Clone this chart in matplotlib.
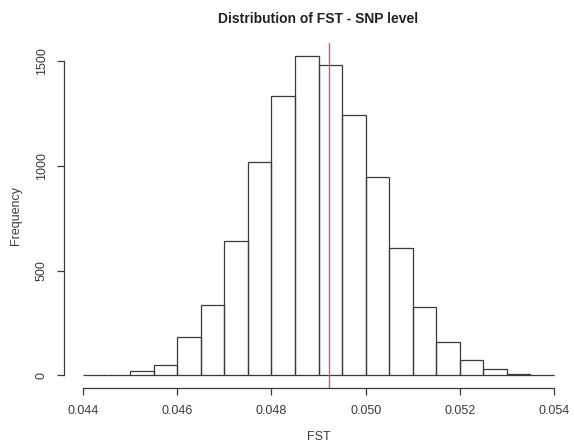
import numpy as np
import matplotlib.pyplot as plt

plt.rcParams['font.family'] = ['Liberation Sans', 'DejaVu Sans']

# histogram of FST values, bin width 0.0005
bin_edges = [0.0440, 0.0445, 0.0450, 0.0455, 0.0460, 0.0465, 0.0470, 0.0475,
             0.0480, 0.0485, 0.0490, 0.0495, 0.0500, 0.0505, 0.0510, 0.0515,
             0.0520, 0.0525, 0.0530, 0.0535, 0.0540]
counts = [1, 3, 19, 51, 183, 337, 643, 1021, 1333, 1527,
          1481, 1244, 948, 606, 326, 157, 72, 30, 8, 1]
mean_fst = 0.04923

x_ticks = [0.044, 0.046, 0.048, 0.050, 0.052, 0.054]
x_ticklabels = ["0.044", "0.046", "0.048", "0.050", "0.052", "0.054"]
y_ticks = [0, 500, 1000, 1500]

ink = "#3a3a3a"

fig = plt.figure(figsize=(5.74, 4.48), dpi=100)
ax = fig.add_axes([0.112, 0.134, 0.886, 0.770])

ax.hist(bin_edges[:-1], bins=bin_edges, weights=counts,
        fill=False, edgecolor=ink, linewidth=0.9)
ax.axvline(mean_fst, color="#dd5a5a", linewidth=1.0)

# R-style plot region: 4% padding on each side
xr = bin_edges[-1] - bin_edges[0]
ax.set_xlim(bin_edges[0] - 0.04 * xr, bin_edges[-1] + 0.04 * xr)
ymax = max(counts)
ax.set_ylim(-0.04 * ymax, 1.04 * ymax)

for s in ["top", "right"]:
    ax.spines[s].set_visible(False)
ax.spines["left"].set_bounds(0, 1500)
ax.spines["bottom"].set_bounds(0.044, 0.054)
for s in ["left", "bottom"]:
    ax.spines[s].set_color(ink)
    ax.spines[s].set_linewidth(0.9)

ax.set_xticks(x_ticks)
ax.set_xticklabels(x_ticklabels)
ax.set_yticks(y_ticks)
ax.set_yticklabels([str(v) for v in y_ticks], rotation=90, va="center")
ax.tick_params(axis="both", direction="out", length=5, width=0.9,
               color=ink, labelcolor=ink, labelsize=9, pad=7)

ax.set_xlabel("FST", fontsize=9, color=ink, labelpad=10)
ax.set_ylabel("Frequency", fontsize=9, color=ink, labelpad=10)
fig.text(0.554, 0.957, "Distribution of FST - SNP level", ha="center",
         va="center", fontsize=10, fontweight="bold", color="#222222")

fig.savefig("out.png", dpi=100)
